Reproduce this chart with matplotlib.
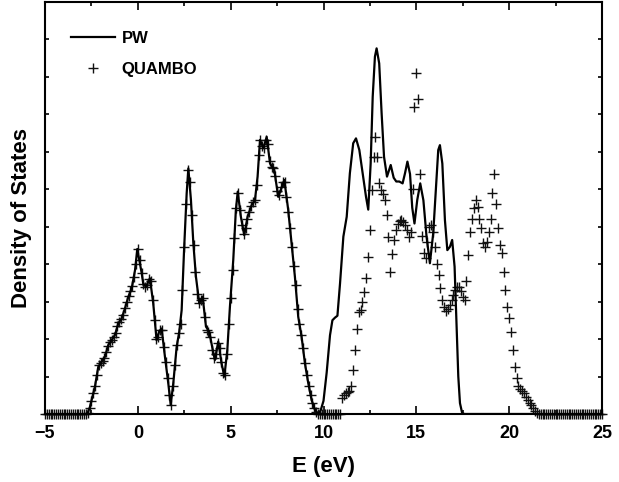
import numpy as np
import matplotlib
matplotlib.use("Agg")
import matplotlib.pyplot as plt

plt.rcParams['font.family'] = ['Liberation Sans', 'DejaVu Sans']
plt.rcParams['font.weight'] = 'bold'

# ---- PW (plane wave) DOS (E in eV, DOS in tick units)
E_pw = [-5.0, -2.8, -2.7, -2.58, -2.45, -2.31, -2.13, -1.95, -1.77, -1.59, -1.41,
        -1.23, -1.05, -0.87, -0.69, -0.51, -0.33, -0.15, -0.03, 0.1, 0.21, 0.29,
        0.44, 0.65, 0.83, 1.01, 1.15, 1.28, 1.46, 1.64, 1.77, 1.91, 2.09, 2.23,
        2.36, 2.49, 2.63, 2.72, 2.86, 2.99, 3.13, 3.31, 3.49, 3.67, 3.85, 4.0,
        4.15, 4.33, 4.51, 4.66, 4.82, 4.96, 5.14, 5.28, 5.38, 5.55, 5.73, 5.91,
        6.13, 6.31, 6.45, 6.58, 6.76, 6.94, 7.12, 7.35, 7.56, 7.89, 8.10, 8.28,
        8.46, 8.64, 8.82, 9.0, 9.18, 9.36, 9.54, 9.72, 9.85, 10.0, 10.17, 10.35,
        10.48, 10.62, 10.75, 10.89, 11.07, 11.25, 11.42, 11.60, 11.75, 11.93,
        12.11, 12.29, 12.41, 12.54, 12.65, 12.77, 12.86, 13.0, 13.13, 13.26,
        13.42, 13.62, 13.78, 13.92, 14.08, 14.26, 14.39, 14.52, 14.66, 14.78,
        14.90, 15.05, 15.21, 15.38, 15.55, 15.73, 15.91, 16.06, 16.18, 16.27,
        16.40, 16.54, 16.67, 16.81, 16.93, 17.06, 17.17, 17.26, 17.35, 17.47,
        17.6, 25.0]
dos_pw = [0.0, 0.0, 0.03, 0.19, 0.45, 0.73, 1.26, 1.39, 1.53, 1.84, 1.97,
          2.11, 2.42, 2.55, 2.82, 3.13, 3.35, 3.84, 4.4, 4.05, 3.75, 3.48,
          3.39, 3.62, 2.95, 1.97, 2.2, 2.28, 1.53, 0.82, 0.24, 0.82, 1.79, 2.19,
          2.77, 4.37, 5.88, 6.55, 5.71, 4.55, 3.66, 2.95, 3.13, 2.33, 2.19, 1.8,
          1.44, 1.93, 1.35, 1.0, 1.71, 2.86, 4.11, 5.44, 5.93, 5.26, 4.77, 5.26,
          5.57, 5.71, 6.33, 7.31, 7.09, 7.39, 6.68, 6.51, 5.79, 6.24, 5.44, 4.55,
          3.66, 2.59, 2.06, 1.35, 0.82, 0.37, 0.11, 0.0, 0.1, 0.35, 1.1, 2.1,
          2.5, 2.57, 2.62, 3.48, 4.73, 5.26, 6.42, 7.22, 7.35, 7.04,
          6.42, 5.79, 5.45, 6.68, 8.46, 9.53, 9.75, 9.35, 8.02, 6.86,
          6.33, 6.64, 6.3, 6.2, 6.2, 6.15, 6.42, 6.73, 6.4, 5.5,
          5.08, 5.71, 6.15, 5.7, 4.73, 4.02, 4.82, 6.06, 7.04, 7.17,
          6.68, 5.17, 4.37, 4.46, 4.64, 3.93, 2.33, 1.0, 0.29, 0.02,
          0.0, 0.0]

# ---- QUAMBO DOS on a 0.1 eV grid from -5.0 to 25.0 eV
dos_q = [
    0, 0, 0, 0, 0, 0, 0, 0, 0, 0,                                  # -5.0 .. -4.1
    0, 0, 0, 0, 0, 0, 0, 0, 0, 0,                                  # -4.0 .. -3.1
    0, 0, 0, 0.02, 0.15, 0.35, 0.55, 0.75, 1.05, 1.3,              # -3.0 .. -2.1
    1.37, 1.42, 1.5, 1.65, 1.82, 1.93, 1.98, 2.05, 2.15, 2.35,     # -2.0 .. -1.1
    2.45, 2.53, 2.65, 2.82, 2.98, 3.14, 3.28, 3.42, 3.65, 4.0,     # -1.0 .. -0.1
    4.4, 4.1, 3.75, 3.47, 3.39, 3.45, 3.6, 3.55, 3.05, 2.5,        # 0.0 .. 0.9
    2.0, 2.05, 2.25, 2.25, 1.8, 1.4, 0.95, 0.5, 0.25, 0.75,        # 1.0 .. 1.9
    1.3, 1.85, 2.15, 2.4, 3.3, 4.45, 5.6, 6.5, 6.2, 5.3,           # 2.0 .. 2.9
    4.5, 3.8, 3.2, 2.95, 3.05, 3.1, 2.6, 2.25, 2.2, 2.05,          # 3.0 .. 3.9
    1.7, 1.5, 1.6, 1.9, 1.75, 1.38, 1.1, 1.05, 1.6, 2.4,           # 4.0 .. 4.9
    3.1, 3.85, 4.7, 5.5, 5.9, 5.45, 5.05, 4.8, 4.95, 5.2,          # 5.0 .. 5.9
    5.4, 5.55, 5.65, 5.7, 6.1, 6.9, 7.3, 7.15, 7.1, 7.3,           # 6.0 .. 6.9
    7.2, 6.75, 6.6, 6.55, 6.35, 5.95, 5.85, 6.05, 6.2, 6.2,        # 7.0 .. 7.9
    5.8, 5.4, 4.95, 4.45, 3.95, 3.45, 2.8, 2.4, 2.1, 1.75,         # 8.0 .. 8.9
    1.35, 1.05, 0.75, 0.5, 0.3, 0.15, 0.05, 0.01, 0, 0,            # 9.0 .. 9.9
    0, 0, 0, 0, 0, 0, 0, 0, 0, 0,                                  # 10.0 .. 10.9
    0.42, 0.51, 0.55, 0.6, 0.62, 0.75, 1.17, 1.71, 2.28, 2.73,     # 11.0 .. 11.9
    2.77, 3.0, 3.26, 3.62, 4.2, 4.91, 5.97, 6.86, 7.4, 6.86,       # 12.0 .. 12.9
    6.15, 5.97, 5.88, 5.71, 5.31, 4.73, 3.8, 4.28, 4.64, 4.91,     # 13.0 .. 13.9
    5.08, 5.15, 5.17, 5.13, 5.04, 4.91, 4.73, 4.85, 6.0, 8.2,      # 14.0 .. 14.9
    9.1, 8.4, 6.4, 4.75, 4.3, 4.15, 4.6, 5.0, 5.05, 4.85,          # 15.0 .. 15.9
    4.46, 4.0, 3.7, 3.35, 3.05, 2.85, 2.74, 2.8, 2.9, 3.05,        # 16.0 .. 16.9
    3.17, 3.3, 3.4, 3.39, 3.28, 3.12, 3.05, 3.55, 4.24, 4.85,      # 17.0 .. 17.9
    5.2, 5.5, 5.7, 5.52, 5.2, 4.95, 4.55, 4.46, 4.6, 4.85,         # 18.0 .. 18.9
    5.2, 5.9, 6.4, 5.6, 4.95, 4.5, 4.3, 3.8, 3.3, 2.85,            # 19.0 .. 19.9
    2.55, 2.2, 1.7, 1.25, 0.95, 0.75, 0.67, 0.62, 0.55, 0.45,      # 20.0 .. 20.9
    0.37, 0.3, 0.23, 0.15, 0.07, 0.02, 0, 0, 0, 0,                 # 21.0 .. 21.9
    0, 0, 0, 0, 0, 0, 0, 0, 0, 0,                                  # 22.0 .. 22.9
    0, 0, 0, 0, 0, 0, 0, 0, 0, 0,                                  # 23.0 .. 23.9
    0, 0, 0, 0, 0, 0, 0, 0, 0, 0,                                  # 24.0 .. 24.9
    0]                                                             # 25.0
E_q = np.linspace(-5.0, 25.0, len(dos_q))

x_major = [-5, 0, 5, 10, 15, 20, 25]
x_minor = [-2.5, 2.5, 7.5, 12.5, 17.5, 22.5]
y_ticks = list(range(0, 12))

fig = plt.figure(figsize=(6.19, 4.82), dpi=100)
ax = fig.add_axes([45 / 619, 68 / 482, 557 / 619, 412.5 / 482])

ax.plot(E_pw, dos_pw, color='black', lw=1.6, label='PW', zorder=3)
ax.plot(E_q, dos_q, ls='none', marker='+', ms=6.5, mew=1.0, color='#111111',
        label='QUAMBO', clip_on=False, zorder=2)

ax.set_xlim(-5, 25)
ax.set_ylim(0, 11)
ax.set_xticks(x_major)
ax.set_xticks(x_minor, minor=True)
ax.set_yticks(y_ticks)
ax.set_yticklabels([])
for s in ax.spines.values():
    s.set_linewidth(1.5)
ax.tick_params(which='both', direction='in', top=True, right=True, width=1.2)
ax.tick_params(axis='x', which='major', length=6, labelsize=13, pad=8)
ax.tick_params(axis='x', which='minor', length=3)
ax.tick_params(axis='y', which='major', length=3)
for lab in ax.get_xticklabels():
    lab.set_fontweight('bold')

ax.set_xlabel('E (eV)', fontsize=16, fontweight='bold', labelpad=10)
ax.set_ylabel('Density of States', fontsize=16, fontweight='bold')
ax.yaxis.set_label_coords(-0.023, 0.476)

ax.legend(loc='upper left', bbox_to_anchor=(0.0467, 0.929), frameon=False,
          prop={'size': 12, 'weight': 'bold'}, handlelength=2.65,
          handletextpad=0.4, labelspacing=0.98, borderpad=0, borderaxespad=0,
          numpoints=1)

fig.savefig('out.png', dpi=100)
